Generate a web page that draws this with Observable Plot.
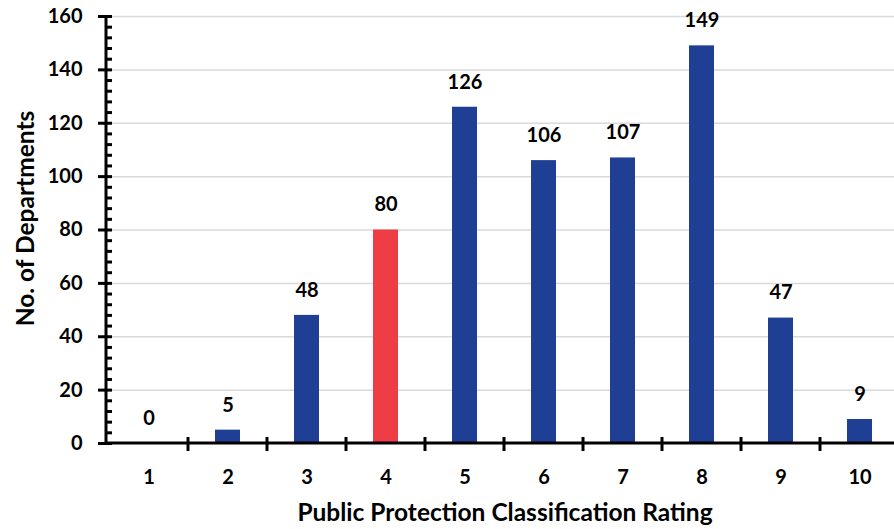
<!DOCTYPE html>
<html>
<head>
<meta charset="utf-8">
<script src="https://cdn.jsdelivr.net/npm/d3@7"></script>
<script src="https://cdn.jsdelivr.net/npm/@observablehq/plot@0.6"></script>
<style>
  html, body { margin: 0; padding: 0; background: #fff; overflow: hidden; }
  #chart svg { display: block; }
</style>
</head>
<body>
<div id="chart"></div>
<script>
// Fire departments by Public Protection Classification (PPC) rating
const ratings = ["1", "2", "3", "4", "5", "6", "7", "8", "9", "10"];
const departments = [0, 5, 48, 80, 126, 106, 107, 149, 47, 9];
const highlightRating = "4";
const yMajorTicks = [0, 20, 40, 60, 80, 100, 120, 140, 160];
const yMinorStep = 4;

const xTitle = "Public Protection Classification Rating";
const yTitle = "No. of Departments";

const blue = "#1f3f94";
const red = "#ef3d46";
const font = "Lato, 'Open Sans', sans-serif";

const data = ratings.map((r, i) => ({rating: r, count: departments[i]}));
const yMinorTicks = d3.range(0, d3.max(yMajorTicks) + 1, yMinorStep);

// The category axis runs slightly past the right edge of the canvas
const plotLeft = 106;
const categoryStep = 79.7;

// Axis lines, category boundary ticks and the two axis titles
function axisFrame(index, scales, values, dims) {
  const {x, y} = scales;
  const g = d3.create("svg:g").attr("stroke", "#000").attr("fill", "none");
  const left = dims.marginLeft;
  const right = dims.width;
  const top = dims.marginTop;
  const y0 = y(0);
  const bw = typeof x.bandwidth === "function" ? x.bandwidth() : x.bandwidth;
  g.append("line").attr("x1", left).attr("x2", left).attr("y1", top - 1).attr("y2", y0 + 1.5).attr("stroke-width", 3);
  g.append("line").attr("x1", left).attr("x2", right).attr("y1", y0).attr("y2", y0).attr("stroke-width", 3);
  for (let i = 0; i < ratings.length - 1; ++i) {
    const bx = (x(ratings[i]) + bw + x(ratings[i + 1])) / 2;
    g.append("line").attr("x1", bx).attr("x2", bx).attr("y1", y0 - 6).attr("y2", y0 + 8).attr("stroke-width", 3);
  }
  const t = g.append("g").attr("stroke", "none").attr("fill", "#000")
    .attr("font-family", font).attr("font-weight", "bold");
  t.append("text")
    .attr("x", 505)
    .attr("y", dims.height - 8)
    .attr("text-anchor", "middle")
    .attr("font-size", 24.5)
    .text(xTitle);
  t.append("text")
    .attr("transform", `translate(${left - 72},${(top + y0) / 2 - 11}) rotate(-90)`)
    .attr("text-anchor", "middle")
    .attr("font-size", 24.5)
    .text(yTitle);
  return g.node();
}

const chart = Plot.plot({
  width: 894,
  height: 529,
  marginLeft: plotLeft,
  marginRight: 0,
  marginTop: 16,
  marginBottom: 86,
  style: {fontFamily: font, fontWeight: "bold", color: "#000", background: "#fff", overflow: "hidden"},
  x: {domain: ratings, range: [plotLeft, plotLeft + categoryStep * ratings.length], paddingInner: 0.68, paddingOuter: 0.34, label: null},
  y: {domain: [0, 160], label: null},
  marks: [
    Plot.gridY(yMajorTicks.filter(d => d > 0), {stroke: "#d9d9d9", strokeOpacity: 1, strokeWidth: 1.5}),
    Plot.barY(data, {
      x: "rating",
      y: "count",
      fill: d => d.rating === highlightRating ? red : blue
    }),
    Plot.text(data, {
      x: "rating",
      y: "count",
      text: d => String(d.count),
      dy: -25,
      fontSize: 20,
      fontWeight: "bold",
      fill: "#000"
    }),
    Plot.axisY({ticks: yMajorTicks, tickSize: 8, tickPadding: 16, strokeWidth: 3, fontSize: 20, label: null}),
    Plot.axisY({ticks: yMinorTicks, tickSize: -6, strokeWidth: 3, text: null, label: null}),
    Plot.axisX({tickSize: 0, tickPadding: 26, fontSize: 20, label: null}),
    axisFrame
  ]
});

document.getElementById("chart").append(chart);
</script>
</body>
</html>
